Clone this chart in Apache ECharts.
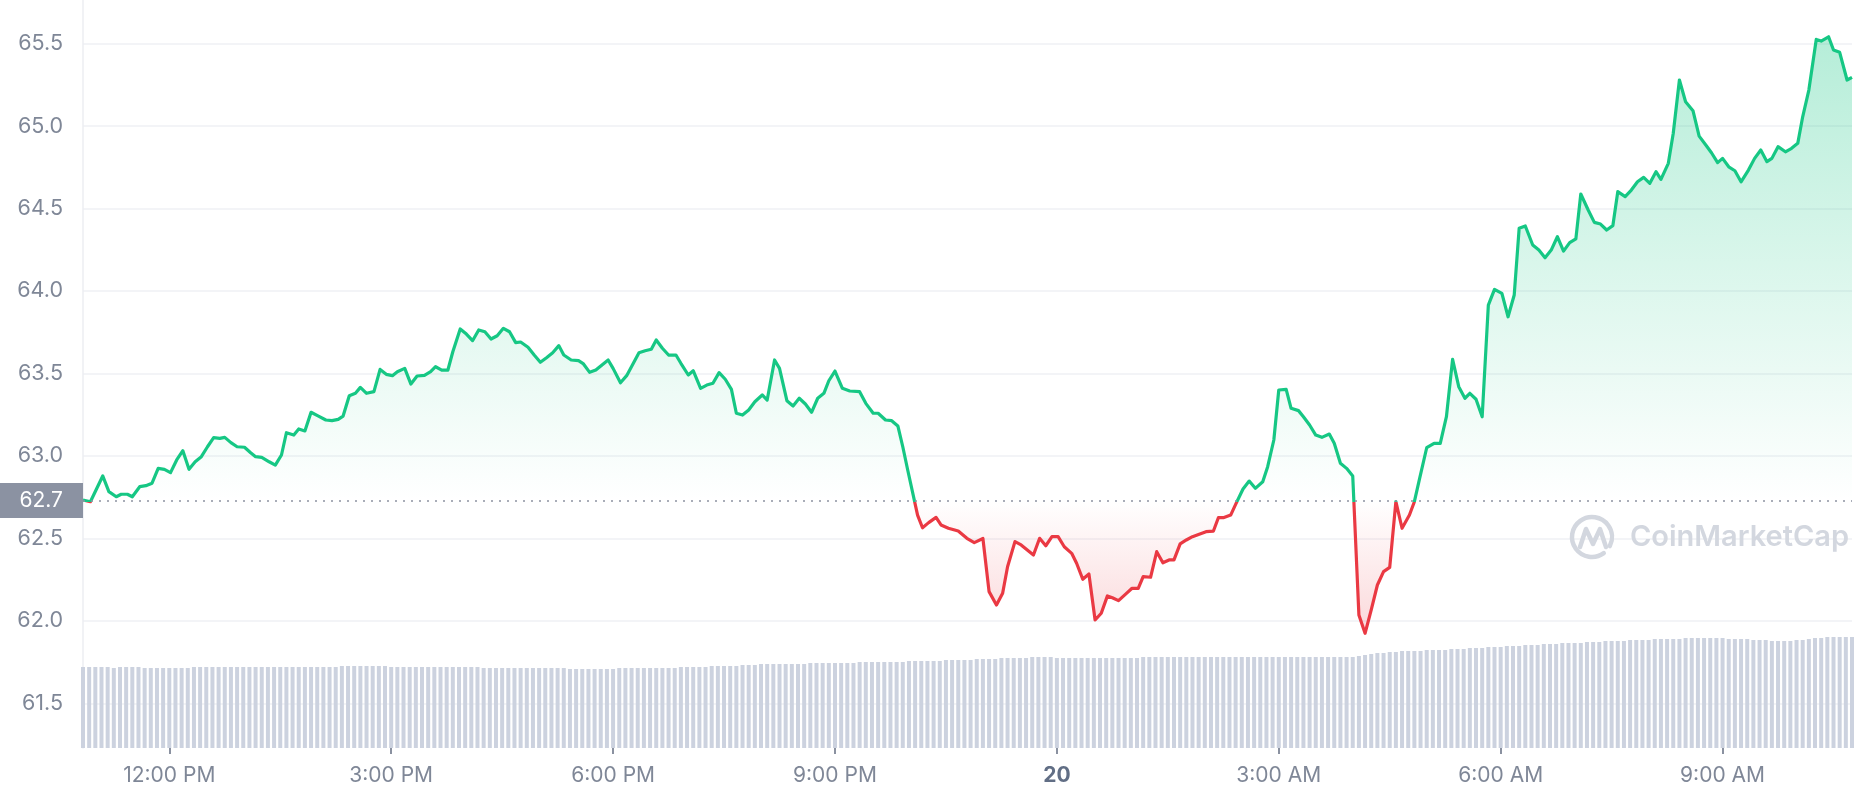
<!DOCTYPE html>
<html><head><meta charset="utf-8">
<script src="https://cdn.jsdelivr.net/npm/echarts@6/dist/echarts.min.js"></script>
<style>html,body{margin:0;padding:0;background:#fff}#c{width:1858px;height:800px}</style>
</head><body><div id="c"></div>
<script>
// Reference (opening) price drawn as the dotted line
const baseline = 62.73;

// Price samples: minutes after 00:00 on the 19th, and price
const priceTimes = [
 650,656,666,671,677,681,686,690,696,701,706,711,716,721,726,731,736,741,746,751,
 756,761,765,770,775,781,786,790,795,801,806,811,815,821,825,830,835,841,847,852,
 857,861,866,871,875,880,886,891,896,901,905,911,916,921,927,932,936,941,946,950,
 956,961,966,971,976,981,986,991,996,1001,1005,1011,1016,1021,1026,1031,1036,1040,1046,1052,
 1056,1061,1066,1071,1076,1080,1086,1091,1096,1101,1106,1111,1115,1120,1125,1131,1135,1141,1145,1151,
 1156,1161,1166,1171,1176,1180,1185,1190,1195,1201,1205,1211,1215,1221,1226,1231,1236,1241,1246,1251,
 1255,1260,1266,1272,1280,1285,1291,1295,1301,1306,1311,1315,1319,1327,1331,1336,1342,1346,1352,1360,
 1367,1373,1380,1385,1391,1396,1400,1406,1411,1416,1421,1426,1431,1436,1441,1446,1452,1456,1461,1466,
 1471,1476,1481,1485,1490,1496,1501,1506,1510,1516,1521,1526,1531,1535,1540,1545,1550,1556,1561,1567,
 1571,1575,1581,1585,1591,1596,1601,1607,1611,1616,1620,1626,1630,1636,1640,1645,1650,1655,1661,1665,
 1670,1675,1680,1685,1690,1695,1700,1705,1710,1715,1720,1726,1730,1734,1740,1746,1751,1756,1761,1766,
 1771,1775,1780,1785,1790,1795,1801,1806,1811,1815,1820,1826,1831,1836,1841,1846,1851,1856,1861,1865,
 1871,1876,1881,1886,1891,1895,1901,1906,1911,1916,1921,1926,1930,1936,1940,1945,1950,1956,1961,1967,
 1971,1976,1980,1985,1990,1995,2001,2006,2011,2016,2020,2025,2031,2036,2041,2045,2050,2056,2060,2066,
 2070,2075,2081,2085
];
const prices = [
 62.733,62.723,62.879,62.784,62.753,62.768,62.768,62.753,62.814,62.820,62.835,62.925,62.919,62.899,62.976,63.032,62.919,62.965,62.996,63.056,
 63.111,63.107,63.113,63.081,63.056,63.053,63.020,62.996,62.992,62.965,62.945,63.006,63.141,63.127,63.164,63.152,63.265,63.242,63.218,63.214,
 63.222,63.242,63.365,63.380,63.416,63.380,63.390,63.525,63.495,63.487,63.511,63.531,63.436,63.485,63.489,63.511,63.541,63.521,63.521,63.632,
 63.770,63.739,63.699,63.764,63.753,63.709,63.729,63.774,63.753,63.687,63.691,63.659,63.612,63.568,63.596,63.626,63.669,63.612,63.582,63.578,
 63.558,63.507,63.521,63.552,63.582,63.531,63.444,63.487,63.556,63.626,63.638,63.647,63.703,63.653,63.612,63.612,63.562,63.491,63.517,63.410,
 63.430,63.441,63.505,63.465,63.404,63.259,63.248,63.279,63.329,63.370,63.339,63.582,63.531,63.335,63.303,63.350,63.315,63.265,63.350,63.380,
 63.456,63.515,63.410,63.394,63.390,63.319,63.259,63.259,63.218,63.214,63.182,63.056,62.915,62.642,62.565,62.596,62.628,62.582,62.562,62.545,
 62.501,62.475,62.500,62.178,62.097,62.168,62.329,62.481,62.461,62.430,62.400,62.501,62.456,62.511,62.511,62.450,62.410,62.350,62.253,62.285,
 62.006,62.047,62.152,62.141,62.123,62.164,62.198,62.198,62.269,62.265,62.420,62.353,62.370,62.370,62.467,62.491,62.511,62.527,62.541,62.545,
 62.626,62.626,62.642,62.707,62.800,62.848,62.804,62.844,62.935,63.097,63.400,63.404,63.289,63.275,63.238,63.188,63.127,63.113,63.133,63.077,
 62.956,62.925,62.879,62.036,61.925,62.067,62.218,62.299,62.325,62.723,62.562,62.642,62.723,62.855,63.050,63.077,63.077,63.238,63.586,63.420,
 63.350,63.380,63.344,63.238,63.915,64.010,63.986,63.844,63.976,64.380,64.394,64.279,64.248,64.202,64.248,64.329,64.242,64.293,64.316,64.588,
 64.491,64.416,64.406,64.370,64.396,64.602,64.572,64.612,64.662,64.689,64.653,64.723,64.677,64.774,64.956,65.279,65.147,65.093,64.939,64.879,
 64.838,64.778,64.804,64.753,64.729,64.662,64.733,64.804,64.855,64.784,64.804,64.875,64.844,64.865,64.895,65.056,65.218,65.525,65.515,65.541,
 65.461,65.447,65.279,65.295
];

// Volume bars: one every 5 minutes starting at 10:50 (relative units)
const volStart = 650, volStep = 5;
const volumes = [
 8.1,8.1,8.1,8.1,8.1,8.0,8.1,8.1,8.1,8.1,8.0,8.0,
 8.0,8.0,8.0,8.0,8.0,8.0,8.1,8.1,8.1,8.1,8.1,8.1,
 8.1,8.1,8.1,8.1,8.1,8.1,8.1,8.1,8.1,8.1,8.1,8.1,
 8.1,8.1,8.1,8.1,8.1,8.1,8.2,8.2,8.2,8.2,8.2,8.2,
 8.2,8.2,8.1,8.1,8.1,8.1,8.1,8.1,8.1,8.1,8.1,8.1,
 8.1,8.1,8.1,8.1,8.1,8.0,8.0,8.0,8.0,8.0,8.0,8.0,
 8.0,8.0,8.0,8.0,8.0,8.0,8.0,7.9,7.9,7.9,7.9,7.9,
 7.9,7.9,7.9,8.0,8.0,8.0,8.0,8.0,8.0,8.0,8.0,8.0,
 8.0,8.1,8.1,8.1,8.1,8.1,8.2,8.2,8.2,8.2,8.2,8.3,
 8.3,8.3,8.4,8.4,8.4,8.4,8.4,8.4,8.4,8.4,8.5,8.5,
 8.5,8.5,8.5,8.5,8.5,8.5,8.6,8.6,8.6,8.6,8.6,8.6,
 8.6,8.6,8.7,8.7,8.7,8.7,8.7,8.7,8.8,8.8,8.8,8.8,
 8.8,8.9,8.9,8.9,8.9,9.0,9.0,9.0,9.0,9.0,9.1,9.1,
 9.1,9.1,9.0,9.0,9.0,9.0,9.0,9.0,9.0,9.0,9.0,9.0,
 9.0,9.0,9.0,9.0,9.1,9.1,9.1,9.1,9.1,9.1,9.1,9.1,
 9.1,9.1,9.1,9.1,9.1,9.1,9.1,9.1,9.1,9.1,9.1,9.1,
 9.1,9.1,9.1,9.1,9.1,9.1,9.1,9.1,9.1,9.1,9.1,9.1,
 9.1,9.1,9.1,9.2,9.3,9.4,9.5,9.5,9.6,9.6,9.7,9.7,
 9.7,9.7,9.8,9.8,9.8,9.8,9.9,9.9,9.9,10.0,10.0,10.0,
 10.1,10.1,10.1,10.2,10.2,10.2,10.3,10.3,10.3,10.4,10.4,10.4,
 10.5,10.5,10.5,10.5,10.6,10.6,10.6,10.7,10.7,10.7,10.7,10.8,
 10.8,10.8,10.8,10.9,10.9,10.9,10.9,10.9,11.0,11.0,11.0,11.0,
 11.0,11.0,11.0,10.9,10.9,10.9,10.9,10.8,10.8,10.8,10.7,10.7,
 10.7,10.7,10.8,10.8,10.9,11.0,11.0,11.1,11.1,11.1,11.1,11.1
];

// Axis ticks
const priceTicks = [61.5, 62.0, 62.5, 63.0, 63.5, 64.0, 64.5, 65.0, 65.5];
const timeTicks = [720, 900, 1080, 1260, 1440, 1620, 1800, 1980];
const timeTickLabels = ['12:00 PM', '3:00 PM', '6:00 PM', '9:00 PM', '20', '3:00 AM', '6:00 AM', '9:00 AM'];

const GREEN = '#16c784', RED = '#ea3943';
const FONT = 'Inter';
const chart = echarts.init(document.getElementById('c'), null, { renderer: 'canvas' });

const vmax = Math.max(...prices), vmin = Math.min(...prices);
const split = (vmax - baseline) / (vmax - vmin);

chart.setOption({
  animation: false,
  backgroundColor: '#ffffff',
  grid: { left: 83, right: 6, top: 0, bottom: 52, containLabel: false },
  xAxis: {
    type: 'value', min: 650, max: 2085,
    axisLine: { show: false },
    splitLine: { show: false },
    axisTick: { show: true, customValues: timeTicks, length: 6, lineStyle: { color: '#8a91a0', width: 2 } },
    axisLabel: {
      customValues: timeTicks, margin: 17, fontSize: 21, fontFamily: FONT, color: '#7f8797',
      formatter: function (v) {
        const i = timeTicks.indexOf(v);
        const s = i >= 0 ? timeTickLabels[i] : '';
        return s === '20' ? '{b|20}' : s;
      },
      rich: { b: { fontWeight: 'bold', color: '#616e85', fontSize: 21, fontFamily: FONT } }
    }
  },
  yAxis: [
    {
      type: 'value', min: 61.23, max: 65.764, position: 'left',
      axisLine: { show: true, lineStyle: { color: '#eceef2', width: 1.5 } },
      axisTick: { show: false, customValues: priceTicks },
      splitLine: { show: true, lineStyle: { color: '#eff1f4', width: 1.5 } },
      axisLabel: { customValues: priceTicks, margin: 20, fontSize: 21.5, fontFamily: FONT, color: '#7f8797',
        formatter: v => v.toFixed(1) }
    },
    { type: 'value', min: 0, max: 74.8, show: false }
  ],
  series: [
    {
      type: 'bar', yAxisIndex: 1, silent: true, barWidth: 4,
      itemStyle: { color: '#ccd2df' },
      data: volumes.map((v, i) => [volStart + i * volStep, v]),
      z: 1
    },
    {
      type: 'line', showSymbol: false, silent: true, z: 3,
      data: priceTimes.map((t, i) => [t, prices[i]]),
      lineStyle: {
        width: 3.2, join: 'round',
        color: new echarts.graphic.LinearGradient(0, 0, 0, 1, [
          { offset: 0, color: GREEN },
          { offset: split, color: GREEN },
          { offset: split, color: RED },
          { offset: 1, color: RED }
        ])
      },
      areaStyle: {
        origin: baseline,
        color: new echarts.graphic.LinearGradient(0, 0, 0, 1, [
          { offset: 0, color: 'rgba(22,199,132,0.45)' },
          { offset: split, color: 'rgba(22,199,132,0.0)' },
          { offset: split, color: 'rgba(234,57,67,0.0)' },
          { offset: 1, color: 'rgba(234,57,67,0.28)' }
        ])
      },
      markLine: {
        silent: true, symbol: 'none', animation: false,
        lineStyle: { color: '#8d93a1', type: [2, 6], width: 1.5 },
        label: {
          show: true, position: 'start', distance: 0,
          formatter: baseline.toFixed(1), color: '#ffffff', fontSize: 21, fontFamily: FONT,
          backgroundColor: '#8b92a2', padding: [7, 20, 7, 21]
        },
        data: [{ yAxis: baseline }]
      }
    }
  ],
  graphic: [
    { type: 'arc', silent: true, z: 2,
      shape: { cx: 1592, cy: 537, r: 20, startAngle: 0.3 * Math.PI, endAngle: 2.15 * Math.PI },
      style: { stroke: '#d3d7df', lineWidth: 4.5, fill: null, lineCap: 'round' } },
    { type: 'polyline', silent: true, z: 2,
      shape: { points: [[1580, 547], [1586, 529], [1593, 544], [1600, 529], [1606, 547]] },
      style: { stroke: '#d3d7df', lineWidth: 4.5, fill: null, lineJoin: 'round', lineCap: 'round' } },
    { type: 'text', silent: true, z: 2,
      style: { x: 1630, y: 537, text: 'CoinMarketCap', fill: '#d3d7df', font: '600 29px Inter', verticalAlign: 'middle' } }
  ]
});
</script>
</body></html>
